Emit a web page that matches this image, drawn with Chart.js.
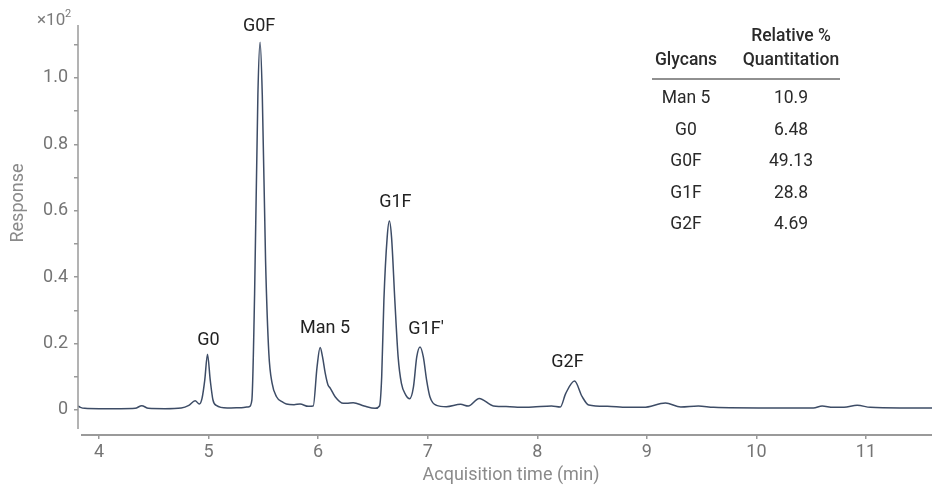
<!DOCTYPE html>
<html>
<head>
<meta charset="utf-8">
<script src="https://cdn.jsdelivr.net/npm/chart.js@4.4.1/dist/chart.umd.min.js"></script>
<style>
  html, body { margin: 0; padding: 0; background: #ffffff; }
  #wrap { position: relative; width: 932px; height: 485px; }
</style>
</head>
<body>
<div id="wrap"><canvas id="chart" width="932" height="485"></canvas></div>
<script>
// Chromatogram trace: acquisition time (min) and response (x10^2)
const times = [
  3.808, 3.83, 3.87, 4.0, 4.2, 4.33, 4.39, 4.45, 4.6, 4.75, 4.82, 4.877, 4.916,
  4.94, 4.965, 4.99, 5.015, 5.04, 5.07, 5.17, 5.3, 5.37,
  5.395, 5.42, 5.45, 5.47, 5.49, 5.52, 5.55, 5.58, 5.62, 5.67, 5.71, 5.78, 5.835, 5.91,
  5.955, 5.99, 6.018, 6.04, 6.065, 6.09, 6.11, 6.155, 6.23, 6.26, 6.32, 6.42, 6.52,
  6.56, 6.58, 6.60, 6.63, 6.65, 6.67, 6.70, 6.73, 6.76, 6.80, 6.835,
  6.87, 6.90, 6.93, 6.96, 6.99, 7.02, 7.08, 7.17, 7.3, 7.37, 7.47, 7.6, 7.75, 7.84,
  7.96, 8.13, 8.21, 8.26, 8.34, 8.41, 8.47, 8.64, 8.82, 8.97, 9.17, 9.31, 9.47, 9.61,
  10.1, 10.52, 10.6, 10.7, 10.8, 10.92, 11.04, 11.31, 11.603
];
const response = [
  0.012, 0.008, 0.005, 0.004, 0.004, 0.005, 0.013, 0.005, 0.004, 0.006, 0.014, 0.028, 0.018,
  0.035, 0.09, 0.168, 0.09, 0.03, 0.014, 0.006, 0.007, 0.01,
  0.03, 0.35, 0.95, 1.108, 0.95, 0.45, 0.17, 0.08, 0.04, 0.025, 0.018, 0.016, 0.018, 0.011,
  0.012, 0.13, 0.188, 0.16, 0.11, 0.075, 0.066, 0.04, 0.02, 0.02, 0.022, 0.012, 0.005,
  0.012, 0.1, 0.33, 0.52, 0.569, 0.52, 0.33, 0.16, 0.08, 0.045, 0.034,
  0.07, 0.16, 0.19, 0.16, 0.09, 0.04, 0.014, 0.01, 0.017, 0.012, 0.035, 0.012, 0.01, 0.008,
  0.009, 0.012, 0.009, 0.05, 0.087, 0.04, 0.015, 0.011, 0.008, 0.008, 0.021, 0.009, 0.012, 0.008,
  0.006, 0.006, 0.012, 0.008, 0.008, 0.014, 0.008, 0.006, 0.006
];

// Axis ticks
const xTicks = [4, 5, 6, 7, 8, 9, 10, 11];
const yTicks = [0, 0.1, 0.2, 0.3, 0.4, 0.5, 0.6, 0.7, 0.8, 0.9, 1.0, 1.1];
const yLabelled = [0, 0.2, 0.4, 0.6, 0.8, 1.0];

// Peak annotations
const peakNames = ['G0', 'G0F', 'Man 5', 'G1F', "G1F'", 'G2F'];
const peakTimes = [4.99, 5.47, 6.018, 6.65, 6.93, 8.34];
const peakResponses = [0.168, 1.108, 0.188, 0.569, 0.19, 0.087];

// Quantitation table
const tableGlycans = ['Man 5', 'G0', 'G0F', 'G1F', 'G2F'];
const tableRelative = ['10.9', '6.48', '49.13', '28.8', '4.69'];

// label offsets (px) from each peak tip to the label centre
const peakLabelOffsets = [[1, -14], [-1, -16], [5, -19], [6, -19], [6, -17], [-7, -19]];

const points = times.map((t, i) => ({ x: t, y: response[i] }));

const FONT = 'Roboto, "Liberation Sans", sans-serif';
const AXIS_COLOR = '#9a9a9a';

const decorations = {
  id: 'decorations',
  afterDraw(chart) {
    const { ctx, chartArea, scales } = chart;
    const xs = scales.x, ys = scales.y;
    ctx.save();

    // axis lines
    ctx.strokeStyle = AXIS_COLOR;
    ctx.lineWidth = 1.5;
    ctx.beginPath();
    ctx.moveTo(chartArea.left, chartArea.top);
    ctx.lineTo(chartArea.left, chartArea.bottom - 6);
    ctx.stroke();
    ctx.lineWidth = 2;
    ctx.beginPath();
    ctx.moveTo(chartArea.left + 3, chartArea.bottom);
    ctx.lineTo(chartArea.right, chartArea.bottom);
    ctx.stroke();

    // scale factor
    ctx.fillStyle = '#7a7a7a';
    ctx.textBaseline = 'alphabetic';
    ctx.textAlign = 'left';
    ctx.font = '17px ' + FONT;
    ctx.fillText('\u00d710', 37, 25);
    ctx.font = '11px ' + FONT;
    ctx.fillText('2', 65, 17);

    // axis titles
    ctx.fillStyle = '#8a8a8a';
    ctx.font = '18px ' + FONT;
    ctx.textAlign = 'center';
    ctx.textBaseline = 'middle';
    ctx.fillText('Acquisition time (min)', 511, 475);
    ctx.save();
    ctx.translate(18, 203);
    ctx.rotate(-Math.PI / 2);
    ctx.fillText('Response', 0, 0);
    ctx.restore();

    // peak labels
    ctx.fillStyle = '#222222';
    ctx.font = '18px ' + FONT;
    peakNames.forEach((name, i) => {
      const px = xs.getPixelForValue(peakTimes[i]) + peakLabelOffsets[i][0];
      const py = ys.getPixelForValue(peakResponses[i]) + peakLabelOffsets[i][1];
      ctx.fillText(name, px, py);
    });

    // quantitation table
    const colA = 686, colB = 791;
    ctx.fillStyle = '#2a2a2a';
    ctx.font = '500 17.5px ' + FONT;
    ctx.fillText('Relative %', colB, 37);
    ctx.fillText('Glycans', colA, 61);
    ctx.fillText('Quantitation', colB, 61);
    ctx.strokeStyle = '#222222';
    ctx.lineWidth = 1.2;
    ctx.beginPath();
    ctx.moveTo(652, 79);
    ctx.lineTo(840, 79);
    ctx.stroke();
    ctx.font = '17.5px ' + FONT;
    tableGlycans.forEach((g, i) => {
      const y = 99 + i * 31.5;
      ctx.fillText(g, colA, y);
      ctx.fillText(tableRelative[i], colB, y);
    });

    ctx.restore();
  }
};

new Chart(document.getElementById('chart'), {
  type: 'line',
  data: {
    datasets: [{
      data: points,
      borderColor: '#3d4c66',
      borderWidth: 1.5,
      pointRadius: 0,
      fill: false,
      cubicInterpolationMode: 'monotone'
    }]
  },
  options: {
    responsive: false,
    animation: false,
    events: [],
    layout: { padding: { top: 25, right: 0, left: 0, bottom: 0 } },
    plugins: { legend: { display: false }, tooltip: { enabled: false } },
    scales: {
      x: {
        type: 'linear',
        min: 3.808,
        max: 11.603,
        border: { display: false },
        grid: { drawOnChartArea: false, drawTicks: true, tickLength: 4, color: AXIS_COLOR, lineWidth: 1.5 },
        ticks: {
          autoSkip: false,
          maxRotation: 0,
          padding: 3,
          color: '#757575',
          font: { family: FONT, size: 18 },
          callback: (v) => String(v)
        },
        afterBuildTicks: (scale) => { scale.ticks = xTicks.map(v => ({ value: v })); },
        afterFit: (scale) => { scale.height = 50; }
      },
      y: {
        type: 'linear',
        min: -0.0753,
        max: 1.1596,
        border: { display: false },
        grid: { drawOnChartArea: false, drawTicks: true, tickLength: 4, color: AXIS_COLOR, lineWidth: 1.5 },
        ticks: {
          autoSkip: false,
          padding: 6,
          color: '#757575',
          font: { family: FONT, size: 18 },
          callback: (v) => {
            const hit = yLabelled.find(l => Math.abs(l - v) < 1e-6);
            if (hit === undefined) return '';
            return hit === 0 ? '0' : hit.toFixed(1);
          }
        },
        afterBuildTicks: (scale) => { scale.ticks = yTicks.map(v => ({ value: v })); },
        afterFit: (scale) => { scale.width = 78; }
      }
    }
  },
  plugins: [decorations]
});
</script>
</body>
</html>
